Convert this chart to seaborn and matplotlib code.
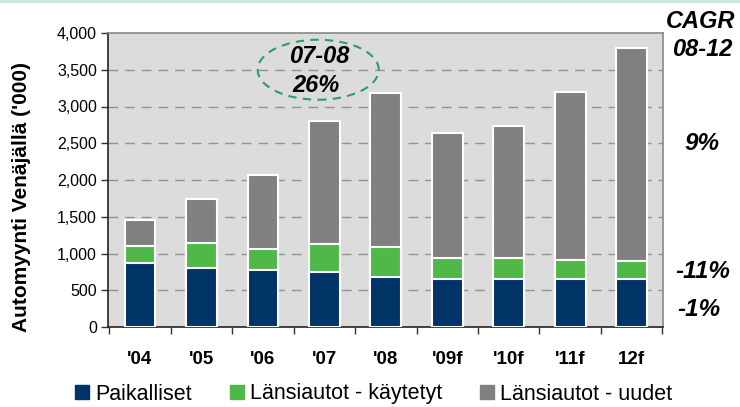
import pandas as pd
import matplotlib.pyplot as plt
import seaborn as sns
from matplotlib.patches import Ellipse
from matplotlib.lines import Line2D

# data ('000 cars)
years = ["'04", "'05", "'06", "'07", "'08", "'09f", "'10f", "'11f", "12f"]
paikalliset = [872, 798, 775, 752, 680, 651, 651, 651, 651]
kaytetyt = [232, 342, 285, 380, 403, 289, 289, 266, 243]
uudet = [352, 600, 1010, 1670, 2097, 1700, 1800, 2283, 2896]

cagr_labels = ["9%", "-11%", "-1%"]

navy = '#003366'
green = '#50B848'
grey = '#808080'

df = pd.DataFrame({'year': years, 'Paikalliset': paikalliset,
                   'kaytetyt': kaytetyt, 'uudet': uudet})
df['top_green'] = df['Paikalliset'] + df['kaytetyt']
df['total'] = df['top_green'] + df['uudet']

sns.set_theme(style='white')
plt.rcParams['font.family'] = ['Liberation Sans', 'DejaVu Sans']
plt.rcParams['text.color'] = 'black'
plt.rcParams['xtick.color'] = 'black'
plt.rcParams['ytick.color'] = 'black'

fig = plt.figure(figsize=(7.4, 4.07), dpi=100)
ax = fig.add_axes([108 / 740, 1 - 327 / 407, 555 / 740, 294 / 407])
ax.set_facecolor('#DCDCDC')

# stacked bars: draw cumulative totals back to front
sns.barplot(data=df, x='year', y='total', color=grey, width=0.5,
            edgecolor='white', linewidth=1.5, saturation=1, ax=ax, zorder=3)
sns.barplot(data=df, x='year', y='top_green', color=green, width=0.5,
            edgecolor='white', linewidth=1.5, saturation=1, ax=ax, zorder=3)
sns.barplot(data=df, x='year', y='Paikalliset', color=navy, width=0.5,
            edgecolor='white', linewidth=1.5, saturation=1, ax=ax, zorder=3)

ax.set_xlim(-0.52, 8.51)
ax.set_ylim(0, 4000)
ax.set_yticks(range(0, 4001, 500))
ax.set_yticklabels([f'{v:,}' for v in range(0, 4001, 500)], fontsize=11.5)
for v in range(500, 4000, 500):
    ax.axhline(v, color='#939393', linestyle=(0, (7, 5)), linewidth=1, zorder=1)

ax.set_xticks(range(len(years)))
ax.set_xticklabels(years, fontsize=13.5, fontweight='bold')
ax.set_xticks([i - 0.5 for i in range(len(years) + 1)], minor=True)
ax.tick_params(axis='x', which='major', length=0, pad=17)
ax.tick_params(axis='x', which='minor', length=5, width=1, color='#333333', direction='out', bottom=True)
ax.tick_params(axis='y', length=5, width=1, color='#333333', direction='out', left=True, pad=3)
ax.set_xlabel('')
ax.set_ylabel('')
fig.text(22 / 740, 1 - 197 / 407, "Automyynti Venäjällä ('000)", rotation=90,
         ha='center', va='center', fontsize=15, fontweight='bold')

for side in ['left', 'bottom']:
    ax.spines[side].set_color('#222222')
    ax.spines[side].set_linewidth(1.2)
for side in ['top', 'right']:
    ax.spines[side].set_color('#888888')
    ax.spines[side].set_linewidth(1.2)

# 07-08 growth bubble
ax.add_patch(Ellipse((2.90, 3500), 1.97, 816, fill=False, edgecolor='#2E9E60',
                     linestyle=(0, (4, 3)), linewidth=1.5, clip_on=False, zorder=5))
ax.text(2.92, 3675, '07-08', ha='center', va='center', fontsize=17,
        fontweight='bold', fontstyle='italic')
ax.text(2.86, 3280, '26%', ha='center', va='center', fontsize=17,
        fontweight='bold', fontstyle='italic')

# CAGR column on the right
fig.text(701 / 740, 1 - 21 / 407, 'CAGR', ha='center', va='center', fontsize=17,
         fontweight='bold', fontstyle='italic')
fig.text(702 / 740, 1 - 50 / 407, '08-12', ha='center', va='center', fontsize=17,
         fontweight='bold', fontstyle='italic')
for lab, xpx, ypx in zip(cagr_labels, [702, 703, 699], [144, 272, 309]):
    fig.text(xpx / 740, 1 - ypx / 407, lab, ha='center', va='center', fontsize=17.5,
             fontweight='bold', fontstyle='italic')

# thin line at the very top
fig.add_artist(Line2D([0, 1], [0.997, 0.997], color='#C8E6DC', linewidth=2))

handles = [Line2D([], [], marker='s', linestyle='', color=c, markersize=10)
           for c in [navy, green, grey]]
fig.legend(handles, ['Paikalliset', 'Länsiautot - käytetyt', 'Länsiautot - uudet'],
           loc='center', bbox_to_anchor=(373 / 740, 1 - 394 / 407), ncol=3, frameon=False,
           fontsize=15.5, handletextpad=0.2, columnspacing=1.7, handlelength=0.8)

fig.savefig('out.png', dpi=100)
